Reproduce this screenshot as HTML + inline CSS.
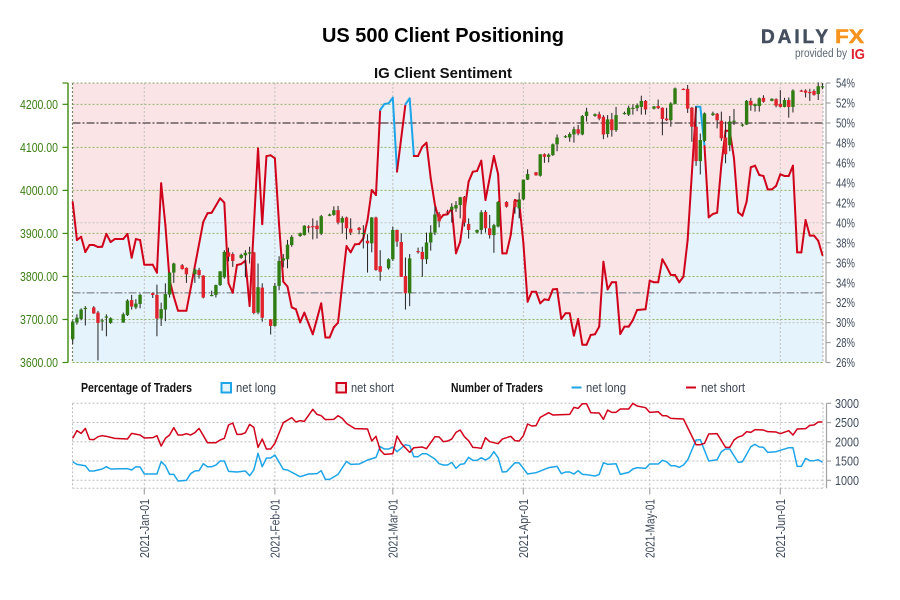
<!DOCTYPE html>
<html lang="en">
<head>
<meta charset="utf-8">
<title>US 500 Client Positioning</title>
<style>
html,body{margin:0;padding:0;background:#fff;width:900px;height:600px;overflow:hidden}
svg{display:block;font-family:"Liberation Sans",sans-serif}
</style>
</head>
<body>
<svg id="chart" xmlns="http://www.w3.org/2000/svg" width="900" height="600" viewBox="0 0 900 600">
  <text x="443" y="42" text-anchor="middle" font-size="20" font-weight="700" fill="#000" textLength="242" lengthAdjust="spacingAndGlyphs">US 500 Client Positioning</text>
  <text x="443" y="78" text-anchor="middle" font-size="15" font-weight="700" fill="#111" textLength="138" lengthAdjust="spacingAndGlyphs">IG Client Sentiment</text>
  <g>
    <text x="761" y="43" font-size="19.5" font-weight="700" fill="#454f5e" stroke="#454f5e" stroke-width="0.5" letter-spacing="3" textLength="70" lengthAdjust="spacingAndGlyphs">DAILY</text>
    <text x="835" y="43" font-size="19.5" font-weight="700" fill="#f7931e" stroke="#f7931e" stroke-width="0.5" textLength="29" lengthAdjust="spacingAndGlyphs">FX</text>
    <text x="795" y="57" font-size="11.5" fill="#5d6672" textLength="52" lengthAdjust="spacingAndGlyphs">provided by</text>
    <text x="851" y="59" font-size="15" font-weight="700" fill="#e0202f" textLength="14" lengthAdjust="spacingAndGlyphs">IG</text>
  </g>
  <g id="main-panel"></g>
  <g font-size="13" fill="#222">
    <text x="81" y="392" font-weight="700" fill="#111" textLength="111" lengthAdjust="spacingAndGlyphs">Percentage of Traders</text>
    <rect x="221.5" y="383" width="9.5" height="9.5" fill="#e5f3fb" stroke="#1ea5e8" stroke-width="2"/>
    <text x="236" y="392" fill="#3a4452" textLength="40" lengthAdjust="spacingAndGlyphs">net long</text>
    <rect x="336.5" y="383" width="9.5" height="9.5" fill="#f8e6e8" stroke="#d0021b" stroke-width="2"/>
    <text x="351" y="392" fill="#3a4452" textLength="43" lengthAdjust="spacingAndGlyphs">net short</text>
    <text x="451" y="392" font-weight="700" fill="#111" textLength="92" lengthAdjust="spacingAndGlyphs">Number of Traders</text>
    <line x1="571.5" y1="387.5" x2="581.5" y2="387.5" stroke="#1ea5e8" stroke-width="2"/>
    <text x="586" y="392" fill="#3a4452" textLength="40" lengthAdjust="spacingAndGlyphs">net long</text>
    <line x1="686" y1="387.5" x2="696" y2="387.5" stroke="#d0021b" stroke-width="2"/>
    <text x="701" y="392" fill="#3a4452" textLength="44" lengthAdjust="spacingAndGlyphs">net short</text>
  </g>
  <g id="count-panel"></g>
</svg>
<script>
const priceTicks = [3600, 3700, 3800, 3900, 4000, 4100, 4200];
const percentTicks = [26, 28, 30, 32, 34, 36, 38, 40, 42, 44, 46, 48, 50, 52, 54];
const countTicks = [1000, 1500, 2000, 2500, 3000];
const monthDays = [0, 31, 59, 90, 120, 151];
const monthLabels = ['2021-Jan-01', '2021-Feb-01', '2021-Mar-01', '2021-Apr-01', '2021-May-01', '2021-Jun-01'];
const currentPrice = 3762;

const sentimentDays = [
-17,-16,-15,-14,-13,-12,-11,-10,-9,-8,-7,-5,-4,-3,-2,-1,0,2,3,4,
5,6,7,8,10,14,15,16,18,19,20,21,22,23,24,25,27,28,29,30,
31,32,33,34,35,36,37,38,40,42,43,44,45,46,48,49,50,51,52,53,
54,55,56,57,58,59,60,62,63,64,65,66,67,68,69,70,71,72,73,74,
75,77,78,79,80,81,83,84,85,86,87,88,89,90,91,92,93,94,95,96,
97,98,99,100,101,102,103,104,105,106,107,108,109,110,111,112,113,114,115,116,
117,119,120,121,122,123,124,125,126,127,128,129,131,132,133,134,135,136,137,138,
139,140,141,142,143,144,145,146,147,148,149,150,151,152,153,154,155,156,157,158,
159,160,161];
const sentimentValues = [
42.08,38.27,38.6,37.07,37.77,37.77,37.57,37.6,38.88,38.07,38.37,38.37,38.88,36.5,38.37,38.27,35.8,35.8,35.0,43.96,
39.78,34.27,32.6,31.19,31.19,40.08,40.95,41.01,42.45,42.01,33.94,32.99,35.77,35.87,36.2,31.66,47.46,39.86,46.68,46.76,
46.46,39.78,34.1,33.6,31.53,31.33,30.03,30.99,28.83,31.93,28.5,28.5,29.53,29.99,37.67,37.04,37.84,37.87,38.44,40.28,
43.28,42.78,51.3,51.9,51.97,52.53,45.12,51.87,52.47,46.69,46.69,47.62,48.02,44.46,41.78,40.28,40.78,40.85,41.45,36.94,
38.1,44.12,45.12,45.19,46.22,42.28,46.69,44.86,36.94,36.94,38.78,42.28,42.11,37.97,32.09,33.09,33.09,31.93,32.33,32.26,
33.33,33.36,30.36,30.93,30.93,28.69,30.36,27.78,27.78,28.76,28.83,29.59,36.1,33.33,34.04,34.04,28.86,29.59,29.59,30.26,
31.26,31.33,34.2,34.04,34.04,36.34,35.6,34.77,34.77,34.04,34.6,38.27,51.63,51.63,47.68,40.55,40.88,41.01,45.79,49.23,
49.2,46.46,41.05,40.71,42.11,45.56,45.72,44.79,44.69,43.35,43.35,43.69,44.86,44.69,44.69,45.72,37.04,37.04,40.28,38.71,
38.71,38.2,36.77];

const candleDays = [
-17,-16,-15,-14,-12,-11,-10,-9,-8,-5,
-4,-3,-2,-1,2,3,4,5,6,7,
9,10,12,13,14,16,17,18,19,20,
21,23,24,25,26,27,28,30,31,32,
33,34,35,37,38,39,40,41,42,44,
45,46,47,48,49,51,52,53,54,55,
56,58,59,60,61,62,63,65,66,67,
68,69,70,72,73,74,75,76,77,79,
80,81,82,83,84,86,88,89,90,91,
93,94,95,96,97,98,100,101,102,103,
104,105,107,108,109,110,111,112,114,115,
116,117,118,119,121,122,123,124,125,126,
128,129,130,131,132,133,135,136,137,138,
139,140,142,143,144,145,146,147,149,150,
151,152,153,154,156,157,158,159,160,161];
const candleOpen = [
3654,3693,3701,3725,3728,3716,3696,3705,3692,3693,
3710,3745,3728,3736,3761,3757,3702,3723,3758,3809,
3826,3820,3805,3815,3802,3755,3757,3780,3798,3856,
3852,3843,3849,3853,3856,3716,3774,3700,3685,3778,
3837,3840,3873,3894,3896,3916,3917,3918,3899,3941,
3943,3954,3925,3937,3911,3913,3899,3883,3877,3937,
3824,3819,3840,3908,3880,3801,3761,3859,3857,3840,
3879,3902,3945,3951,3955,3958,3966,3985,3922,3902,
3908,3950,3912,3896,3916,3973,3976,3958,3979,4025,
4042,4034,4084,4078,4082,4107,4124,4123,4130,4142,
4130,4173,4173,4177,4171,4131,4165,4140,4178,4176,
4191,4191,4194,4208,4190,4196,4192,4167,4163,4201,
4236,4236,4192,4148,4068,4115,4175,4178,4162,4123,
4105,4160,4152,4153,4208,4196,4196,4215,4208,4212,
4201,4194,4210,4194,4232,4232,4229,4231,4224,4240];
const candleHigh = [
3697,3712,3726,3731,3731,3720,3702,3712,3705,3716,
3747,3757,3747,3760,3763,3781,3739,3784,3810,3832,
3829,3821,3819,3820,3803,3767,3781,3812,3861,3867,
3856,3853,3861,3869,3857,3830,3784,3701,3785,3847,
3852,3885,3896,3902,3919,3919,3935,3930,3943,3946,
3963,3964,3940,3939,3935,3915,3919,3898,3938,3939,
3861,3842,3916,3909,3900,3844,3852,3867,3869,3902,
3919,3962,3950,3955,3970,3975,3985,3987,3935,3909,
3954,3954,3943,3922,3975,3975,3977,3995,4025,4049,
4043,4084,4086,4086,4109,4130,4128,4135,4148,4152,
4175,4192,4179,4183,4175,4175,4180,4194,4183,4197,
4200,4202,4220,4210,4196,4211,4193,4192,4205,4239,
4237,4245,4194,4195,4132,4181,4183,4180,4183,4160,
4173,4189,4155,4210,4215,4202,4216,4221,4214,4214,
4233,4215,4216,4235,4234,4235,4236,4235,4251,4249];
const candleLow = [
3643,3688,3698,3686,3713,3605,3674,3661,3690,3692,
3708,3723,3724,3726,3750,3661,3685,3696,3751,3785,
3816,3785,3785,3795,3749,3754,3751,3778,3795,3835,
3822,3841,3798,3830,3712,3712,3695,3665,3683,3768,
3821,3819,3869,3892,3895,3902,3886,3888,3896,3940,
3941,3921,3900,3886,3896,3898,3865,3809,3856,3813,
3790,3816,3836,3869,3799,3723,3731,3853,3799,3829,
3860,3896,3914,3945,3925,3950,3935,3916,3888,3900,
3898,3902,3888,3855,3914,3960,3946,3935,3977,4024,
4034,4032,4064,4065,4080,4091,4122,4113,4111,4128,
4128,4160,4171,4163,4119,4123,4125,4136,4176,4173,
4176,4184,4176,4176,4188,4189,4128,4161,4148,4200,
4233,4180,4113,4057,4037,4113,4173,4144,4115,4063,
4091,4152,4148,4152,4185,4183,4183,4204,4207,4193,
4193,4193,4169,4181,4229,4216,4208,4220,4210,4235];
const candleClose = [
3695,3704,3723,3727,3714,3692,3698,3707,3703,3712,
3744,3730,3737,3757,3757,3702,3724,3759,3809,3830,
3817,3805,3816,3803,3751,3757,3780,3812,3857,3846,
3836,3850,3855,3856,3715,3775,3704,3685,3778,3836,
3842,3874,3892,3900,3918,3915,3915,3910,3940,3944,
3954,3925,3936,3912,3902,3908,3901,3877,3937,3815,
3811,3840,3908,3881,3799,3761,3842,3857,3840,3879,
3902,3944,3928,3948,3962,3966,3984,3925,3908,3908,
3949,3912,3896,3919,3973,3962,3961,3979,4025,4038,
4035,4084,4078,4083,4107,4123,4126,4131,4142,4132,
4173,4183,4177,4167,4130,4165,4140,4175,4180,4192,
4192,4198,4208,4188,4195,4191,4166,4163,4202,4237,
4234,4190,4148,4068,4117,4179,4179,4163,4121,4084,
4160,4162,4153,4208,4198,4200,4214,4206,4213,4197,
4194,4210,4194,4232,4231,4227,4226,4222,4242,4242];

const longDays = [
-17,-16,-14,-13,-12,-10,-9,-8,-4,-3,-2,-1,0,3,4,5,6,7,8,10,
11,12,13,14,15,16,17,18,19,20,22,24,25,26,27,28,29,30,31,33,
34,37,39,41,42,43,44,46,48,49,51,53,55,56,57,58,59,60,62,63,
64,65,66,67,69,70,71,72,73,74,75,76,77,78,79,80,81,82,83,84,
85,86,88,89,90,91,93,94,96,98,99,100,101,102,103,104,105,107,108,109,
110,112,113,115,116,117,119,120,122,123,124,125,126,127,128,129,131,132,134,136,
137,138,139,141,142,144,145,146,147,148,150,153,154,155,156,157,158,159,160,161];
const longValues = [
1483,1414,1379,1241,1241,1293,1353,1293,1302,1267,1353,1345,1163,1163,1483,1379,1154,1154,981,998,
1172,1241,1250,1431,1353,1353,1397,1501,1501,1232,1215,1241,1120,1267,1700,1353,1579,1579,1657,1284,
1267,1094,1163,1172,1250,1024,1024,1154,1492,1414,1423,1527,1596,1873,1812,1812,1864,1743,1925,1899,
1613,1613,1691,1691,1553,1431,1397,1397,1466,1310,1414,1431,1596,1518,1518,1587,1527,1587,1743,1587,
1215,1224,1457,1449,1310,1163,1198,1241,1328,1362,1172,1215,1215,1163,1250,1154,1146,1111,1154,1457,
1414,1431,1154,1206,1293,1328,1310,1423,1423,1518,1483,1379,1379,1336,1397,1527,2046,2055,1501,1535,
1743,1812,1812,1466,1483,1873,1934,1864,1856,1726,1743,1847,1847,1362,1362,1570,1509,1509,1535,1466];

const shortDays = [
-17,-16,-15,-14,-13,-12,-11,-10,-9,-7,-4,-3,-1,0,2,3,4,5,6,7,
8,9,10,11,12,13,15,17,18,19,20,21,22,23,24,25,26,27,28,29,
30,31,33,35,36,37,38,40,41,42,43,45,46,47,48,50,53,54,55,56,
57,59,60,61,63,64,66,67,69,70,71,72,73,74,75,76,77,78,79,80,
81,82,84,85,87,88,89,90,91,92,93,94,96,97,101,102,103,104,105,106,
108,109,110,111,112,113,115,116,117,119,120,122,123,124,125,128,131,132,133,134,
136,138,139,140,141,142,143,144,145,147,148,150,151,153,154,155,157,158,159,160,161];
const shortValues = [
2090,2289,2220,2349,2064,2055,2133,2159,2142,2090,2072,2220,2176,2098,2107,2159,1890,2090,2176,2367,
2176,2176,2211,2176,2237,2349,1977,1977,2046,2090,2436,2488,2193,2193,2237,2453,2375,1856,2072,1812,
1812,1960,2497,2627,2514,2549,2531,2843,2713,2678,2575,2583,2678,2609,2479,2341,2332,2020,2142,1787,
1674,1691,2150,1960,1726,1847,1864,1821,2133,2124,2003,2020,2072,2245,2306,2133,2029,1856,1847,1830,
2107,2003,1951,2072,2142,2029,2020,2159,2462,2410,2419,2635,2756,2696,2713,2895,2869,2990,2990,2756,
2748,2583,2826,2765,2765,2852,2852,2999,2930,2886,2765,2782,2678,2678,2609,2592,1925,1925,1960,2202,
2211,1856,1856,2046,2124,2159,2263,2245,2315,2306,2263,2254,2211,2289,2176,2332,2341,2427,2436,2514,2514];

const SVG_NS = 'http://www.w3.org/2000/svg';
const plotLeft = 72.5, plotRight = 823, plotTop = 83, plotBottom = 362.5;
const countTop = 403.3, countBottom = 488.3;
const COLOR_RED = '#d0021b', COLOR_BLUE = '#1ea5e8', COLOR_GREEN_UP = '#2f7d12', COLOR_RED_DOWN = '#e0222c';

function xScale(day) { return 144.3 + day * 4.212; }
function priceY(price) { return 362.5 - (price - 3600) * 0.4303; }
function percentY(pct) { return 362.5 - (pct - 26) * 9.98; }
function countY(count) { return 480.3 - (count - 1000) * 0.0385; }

function make(parent, tag, attrs, text) {
  const el = document.createElementNS(SVG_NS, tag);
  for (const key in attrs) el.setAttribute(key, attrs[key]);
  if (text !== undefined) el.textContent = text;
  parent.appendChild(el);
  return el;
}

const main = document.getElementById('main-panel');
const counts = document.getElementById('count-panel');

/* background */
const bgRect = make(main, 'rect', {x: plotLeft, y: plotTop, width: plotRight - plotLeft, height: plotBottom - plotTop, fill: '#fbe4e6'});



let areaPath = 'M' + xScale(sentimentDays[0]) + ' ' + plotBottom;
sentimentDays.forEach(function (d, i) {
  areaPath += 'L' + xScale(d).toFixed(2) + ' ' + percentY(sentimentValues[i]).toFixed(2);
});
areaPath += 'L' + xScale(sentimentDays[sentimentDays.length - 1]).toFixed(2) + ' ' + plotBottom + 'Z';
const areaEl = make(main, 'path', {d: areaPath, fill: '#e4f3fc'});



/* grid */
priceTicks.forEach(function (p) {
  const g = make(main, 'line', {x1: plotLeft, x2: plotRight, y1: priceY(p), y2: priceY(p), stroke: '#8fb566', 'stroke-width': 1, 'stroke-dasharray': '2 2'});
  
  
});
const topGrid = make(main, 'line', {x1: plotLeft, x2: plotRight, y1: plotTop, y2: plotTop, stroke: '#8f9f70', 'stroke-width': 1, 'stroke-dasharray': '2 2'});


[30, 40].forEach(function (p) {
  const g = make(main, 'line', {x1: plotLeft, x2: plotRight, y1: percentY(p), y2: percentY(p), stroke: '#c4c4c4', 'stroke-width': 1, 'stroke-dasharray': '2 2'});
  
  
});
monthDays.forEach(function (d) {
  const g = make(main, 'line', {x1: xScale(d), x2: xScale(d), y1: plotTop, y2: plotBottom, stroke: '#c0c0c0', 'stroke-width': 1, 'stroke-dasharray': '2 2'});
  
  
});
const leftGrid = make(main, 'line', {x1: plotLeft, x2: plotLeft, y1: plotTop, y2: plotBottom, stroke: '#6f8a60', 'stroke-width': 1.2, 'stroke-dasharray': '2 2'});


const rightGrid = make(main, 'line', {x1: plotRight, x2: plotRight, y1: plotTop, y2: plotBottom, stroke: '#bbbbbb', 'stroke-width': 1.2, 'stroke-dasharray': '2 2'});



/* reference lines */
const fiftyLine = make(main, 'line', {x1: plotLeft, x2: plotRight, y1: percentY(50), y2: percentY(50), stroke: '#7d6f72', 'stroke-width': 1.8, 'stroke-dasharray': '8 2 2 2'});


const priceLine = make(main, 'line', {x1: plotLeft, x2: plotRight, y1: priceY(currentPrice), y2: priceY(currentPrice), stroke: '#8d9299', 'stroke-width': 1.4, 'stroke-dasharray': '8 2 2 2'});


const bottomGrid = make(main, 'line', {x1: plotLeft, x2: plotRight, y1: plotBottom, y2: plotBottom, stroke: '#7fb04a', 'stroke-width': 1, 'stroke-dasharray': '2 2'});



/* sentiment line: blue while the segment starts above 50%, red otherwise */
for (let i = 0; i < sentimentDays.length - 1; i++) {
  const seg = make(main, 'line', {
    x1: xScale(sentimentDays[i]), y1: percentY(sentimentValues[i]),
    x2: xScale(sentimentDays[i + 1]), y2: percentY(sentimentValues[i + 1]),
    stroke: sentimentValues[i] > 50 ? COLOR_BLUE : COLOR_RED,
    'stroke-width': 2, 'stroke-linecap': 'round'
  });
  
  
}

/* candlesticks */
candleDays.forEach(function (d, i) {
  const x = xScale(d);
  const o = candleOpen[i], h = candleHigh[i], l = candleLow[i], c = candleClose[i];
  const up = c >= o;
  const group = make(main, 'g', {});
  
  
  const wick = make(group, 'line', {x1: x, x2: x, y1: priceY(h), y2: priceY(l), stroke: '#222', 'stroke-width': 1});
  
  
  const top = priceY(Math.max(o, c));
  const height = Math.max(Math.abs(priceY(o) - priceY(c)), 1.2);
  const body = make(group, 'rect', {x: x - 1.7, y: top, width: 3.4, height: height, fill: up ? COLOR_GREEN_UP : COLOR_RED_DOWN});
  
  
});

/* left price axis */
const leftAxis = make(main, 'line', {x1: 68, x2: 68, y1: plotTop, y2: plotBottom, stroke: '#3d8c0f', 'stroke-width': 1.4});


const leftTopTick = make(main, 'line', {x1: 62.5, x2: 68, y1: plotTop, y2: plotTop, stroke: '#3d8c0f', 'stroke-width': 1.2});


priceTicks.forEach(function (p) {
  const y = priceY(p);
  const tick = make(main, 'line', {x1: 62.5, x2: 68, y1: y, y2: y, stroke: '#3d8c0f', 'stroke-width': 1.2});
  
  
  const label = make(main, 'text', {x: 20, y: y + 4.6, 'font-size': 13, fill: '#3b7f14', textLength: 38, lengthAdjust: 'spacingAndGlyphs'}, p.toFixed(2));
  
  
});

/* right percent axis */
const rightAxis = make(main, 'line', {x1: 826, x2: 826, y1: plotTop, y2: plotBottom, stroke: '#a3a3a3', 'stroke-width': 1.2});


percentTicks.forEach(function (p) {
  const y = percentY(p);
  const tick = make(main, 'line', {x1: 826, x2: 830.5, y1: y, y2: y, stroke: '#a3a3a3', 'stroke-width': 1.2});
  
  
  const label = make(main, 'text', {x: 836, y: y + 4.6, 'font-size': 13, fill: '#3f4a5a', textLength: 19, lengthAdjust: 'spacingAndGlyphs'}, p + '%');
  
  
});

/* trader count panel */
countTicks.forEach(function (v) {
  const y = countY(v);
  const grid = make(counts, 'line', {x1: plotLeft, x2: plotRight, y1: y, y2: y, stroke: '#bdbdbd', 'stroke-width': 1, 'stroke-dasharray': '2 2'});
  
  
  const tick = make(counts, 'line', {x1: 826.5, x2: 831, y1: y, y2: y, stroke: '#a3a3a3', 'stroke-width': 1.2});
  
  
  const label = make(counts, 'text', {x: 835, y: y + 4.6, 'font-size': 13, fill: '#3f4a5a', textLength: 24, lengthAdjust: 'spacingAndGlyphs'}, String(v));
  
  
});
const countFloor = make(counts, 'line', {x1: plotLeft, x2: plotRight, y1: countBottom, y2: countBottom, stroke: '#bdbdbd', 'stroke-width': 1, 'stroke-dasharray': '2 2'});


const countLeft = make(counts, 'line', {x1: plotLeft, x2: plotLeft, y1: countTop, y2: countBottom, stroke: '#bdbdbd', 'stroke-width': 1, 'stroke-dasharray': '2 2'});


const countRight = make(counts, 'line', {x1: plotRight, x2: plotRight, y1: countTop, y2: countBottom, stroke: '#bdbdbd', 'stroke-width': 1, 'stroke-dasharray': '2 2'});


const countAxis = make(counts, 'line', {x1: 826.5, x2: 826.5, y1: countTop, y2: countBottom, stroke: '#a3a3a3', 'stroke-width': 1.2});



monthDays.forEach(function (d, i) {
  const x = xScale(d);
  const grid = make(counts, 'line', {x1: x, x2: x, y1: countTop, y2: countBottom, stroke: '#bdbdbd', 'stroke-width': 1, 'stroke-dasharray': '2 2'});
  
  
  const tick = make(counts, 'line', {x1: x, x2: x, y1: countBottom, y2: 494.5, stroke: '#a3a3a3', 'stroke-width': 1.2});
  
  
  const label = make(counts, 'text', {x: 0, y: 0, 'font-size': 13, fill: '#3f4a5a', 'text-anchor': 'start', textLength: 59, lengthAdjust: 'spacingAndGlyphs', transform: 'translate(' + (x + 4.6) + ' 558) rotate(-90)'}, monthLabels[i]);
  
  
});

function seriesPath(days, values) {
  let d = '';
  const n = Math.min(days.length, values.length);
  for (let i = 0; i < n; i++) {
    d += (i ? 'L' : 'M') + xScale(days[i]).toFixed(2) + ' ' + countY(values[i]).toFixed(2);
  }
  return d;
}
const longLine = make(counts, 'path', {d: seriesPath(longDays, longValues), fill: 'none', stroke: COLOR_BLUE, 'stroke-width': 1.5, 'stroke-linejoin': 'round'});


const shortLine = make(counts, 'path', {d: seriesPath(shortDays, shortValues), fill: 'none', stroke: COLOR_RED, 'stroke-width': 1.5, 'stroke-linejoin': 'round'});


</script>
</body>
</html>
